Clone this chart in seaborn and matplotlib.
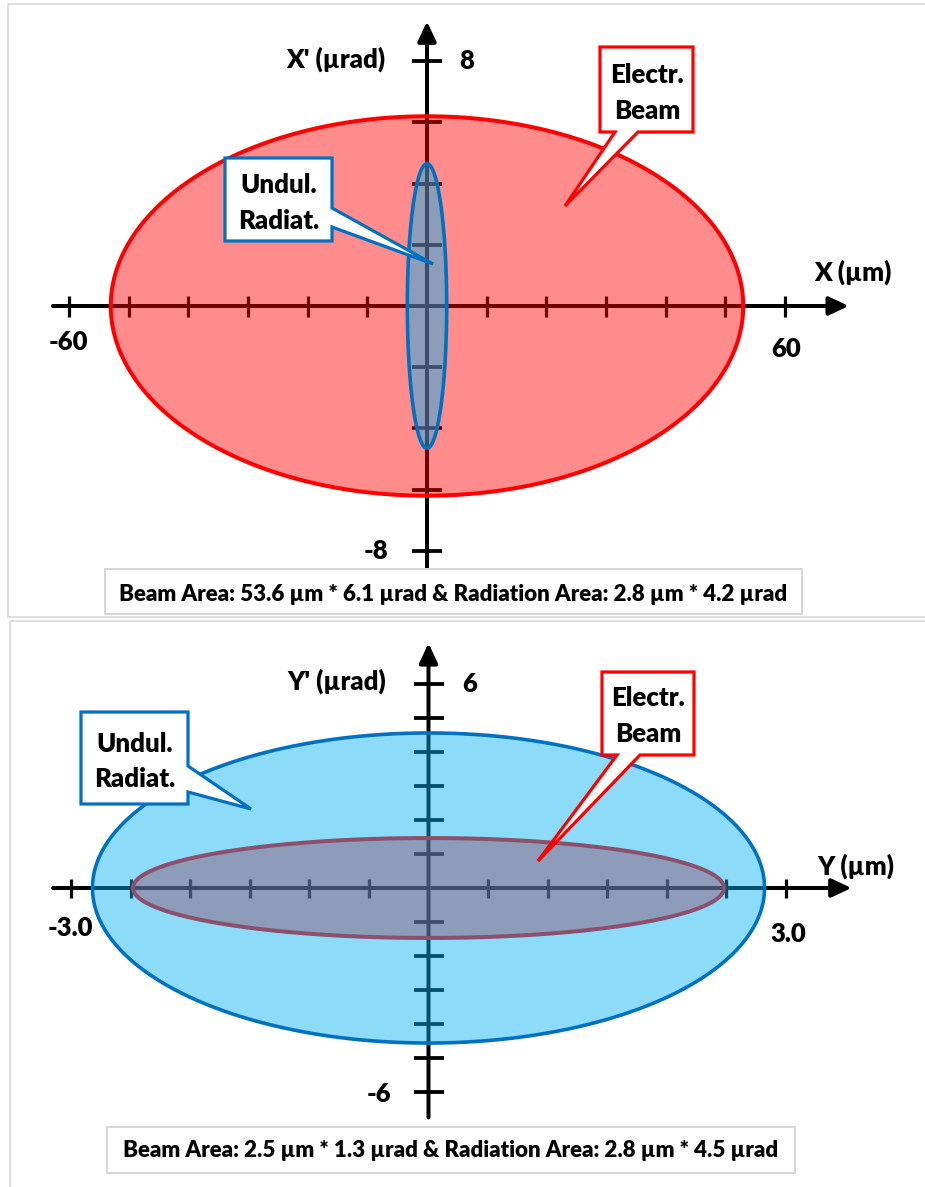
import numpy as np
import pandas as pd
import matplotlib
matplotlib.use("Agg")
import matplotlib.pyplot as plt
from matplotlib.patches import Polygon, Rectangle
from matplotlib import font_manager
import seaborn as sns

# ------------------------------------------------------------------ data
# top panel : horizontal phase space (X, X')
top_xticks = [-60, -50, -40, -30, -20, -10, 10, 20, 30, 40, 50, 60]
top_yticks = [-8, -6, -4, -2, 2, 4, 6, 8]
top_xlabels = {-60: "-60", 60: "60"}
top_ylabels = {8: "8", -8: "-8"}
top_beam = (53.0, 6.2)        # electron beam ellipse semi-axes as drawn
top_rad = (3.3, 4.65)         # undulator radiation ellipse semi-axes as drawn
top_xtitle = "X (µm)"
top_ytitle = "X' (µrad)"
top_caption = "Beam Area: 53.6 µm * 6.1 µrad & Radiation Area: 2.8 µm * 4.2 µrad"

# bottom panel : vertical phase space (Y, Y')
bot_xticks = [-3.0, -2.5, -2.0, -1.5, -1.0, -0.5, 0.5, 1.0, 1.5, 2.0, 2.5, 3.0]
bot_yticks = [-6, -5, -4, -3, -2, -1, 1, 2, 3, 4, 5, 6]
bot_xlabels = {-3.0: "-3.0", 3.0: "3.0"}
bot_ylabels = {6: "6", -6: "-6"}
bot_beam = (2.48, 1.47)
bot_rad = (2.82, 4.56)
bot_xtitle = "Y (µm)"
bot_ytitle = "Y' (µrad)"
bot_caption = "Beam Area: 2.5 µm * 1.3 µrad & Radiation Area: 2.8 µm * 4.5 µrad"

callout_beam = ["Electr.", "Beam"]
callout_rad = ["Undul.", "Radiat."]

# ------------------------------------------------------------------ style
sns.set_theme(style="white")


def pick_font(cands):
    for c in cands:
        try:
            font_manager.findfont(font_manager.FontProperties(family=c),
                                  fallback_to_default=False)
            return c
        except Exception:
            continue
    return "DejaVu Sans"


FONT = pick_font(["Lato", "Liberation Sans", "DejaVu Sans"])
plt.rcParams["font.family"] = [FONT, "DejaVu Sans"]
plt.rcParams["font.weight"] = "heavy"
WEIGHT = "heavy"

W, H = 925, 1187
DPI = 100
fig = plt.figure(figsize=(W / DPI, H / DPI), dpi=DPI)
fig.patch.set_facecolor("white")

RED = (1.0, 0.0, 0.0)
BLUE_FILL = (0.0, 176 / 255, 240 / 255)
BLUE_EDGE = (0.0, 112 / 255, 192 / 255)
ALPHA = 0.45
PT = 72.0 / DPI   # points per pixel

LABEL_FS = 18.5


def make_panel(rect_px, cx, cy, sx, sy):
    """rect_px = (y0, y1) pixel range; cx, cy centre px; sx, sy px per unit."""
    y0, y1 = rect_px
    ax = fig.add_axes([0, 1 - y1 / H, 1, (y1 - y0) / H])
    ax.set_xlim((0 - cx) / sx, (W - cx) / sx)
    ax.set_ylim((cy - y1) / sy, (cy - y0) / sy)
    ax.set_axis_off()
    ax.patch.set_alpha(0)
    return ax


def draw_axes(ax, xstart, xend, ystart, yend, xt, yt, sx_len, sy_len):
    arrow = dict(arrowstyle="-|>,head_length=0.6,head_width=0.28",
                 lw=4 * PT, color="black", mutation_scale=20,
                 shrinkA=0, shrinkB=0)
    ax.annotate("", xy=(xend, 0), xytext=(xstart, 0), arrowprops=arrow, zorder=1)
    ax.annotate("", xy=(0, yend), xytext=(0, ystart), arrowprops=arrow, zorder=1)
    ax.plot(xt, np.zeros(len(xt)), ls="none", marker="|", ms=sx_len * PT,
            mew=3.2 * PT, color="black", zorder=1)
    ax.plot(np.zeros(len(yt)), yt, ls="none", marker="_", ms=sy_len * PT,
            mew=3.8 * PT, color="black", zorder=1)


def draw_ellipse(ax, a, b, fill, edge, lw_px, z):
    t = np.linspace(0, 2 * np.pi, 721)
    df = pd.DataFrame({"x": a * np.cos(t), "y": b * np.sin(t)})
    ax.fill(df["x"], df["y"], color=fill, alpha=ALPHA, lw=0, zorder=z)
    sns.lineplot(data=df, x="x", y="y", sort=False, estimator=None, ax=ax,
                 color=edge, lw=lw_px * PT, zorder=z + 0.1, legend=False)


def label(ax, text, xy, off, ha, fs=LABEL_FS):
    ax.annotate(text, xy=xy, xytext=off, textcoords="offset pixels",
                ha=ha, va="baseline", fontsize=fs, fontweight=WEIGHT,
                color="black", zorder=6)


# ---------------------------------------------------------- top panel
axT = make_panel((0, 619), 427, 306, 5.967, 30.6)
draw_axes(axT, -62.7, 70.7, -8.6, 9.3, top_xticks, top_yticks, 21, 30)
draw_ellipse(axT, top_beam[0], top_beam[1], RED, RED, 4, 2)
draw_ellipse(axT, top_rad[0], top_rad[1], BLUE_FILL, BLUE_EDGE, 3.6, 3)
label(axT, top_xlabels[-60], (-60, 0), (-1, -44), "center")
label(axT, top_xlabels[60], (60, 0), (1, -51), "center")
label(axT, top_ylabels[8], (0, 8), (32, -8), "left")
label(axT, top_ylabels[-8], (0, -8), (-39, -8), "right")
label(axT, top_ytitle, (0, 8), (-42, -6), "right")
label(axT, top_xtitle, (60, 0), (29, 25), "left")

# ---------------------------------------------------------- bottom panel
axB = make_panel((619, H), 428.5, 888, 119.17, 34.0)
draw_axes(axB, -3.15, 3.55, -6.75, 7.2, bot_xticks, bot_yticks, 19, 30)
draw_ellipse(axB, bot_beam[0], bot_beam[1], RED, RED, 4, 2)
draw_ellipse(axB, bot_rad[0], bot_rad[1], BLUE_FILL, BLUE_EDGE, 3.6, 3)
label(axB, bot_xlabels[-3.0], (-3.0, 0), (-1, -48), "center")
label(axB, bot_xlabels[3.0], (3.0, 0), (2, -54), "center")
label(axB, bot_ylabels[6], (0, 6), (34, -8), "left")
label(axB, bot_ylabels[-6], (0, -6), (-37, -10), "right")
label(axB, bot_ytitle, (0, 6), (-42, -6), "right")
label(axB, bot_xtitle, (3.0, 0), (31, 13), "left")

# ---------------------------------------------------------- overlay (frames, callouts, captions)
ov = fig.add_axes([0, 0, 1, 1])
ov.set_xlim(0, W)
ov.set_ylim(H, 0)
ov.set_axis_off()
ov.patch.set_alpha(0)

GRAY = "#d6d6d6"
ov.add_patch(Rectangle((8, 4), 940, 613, fill=False, ec=GRAY, lw=1.6 * PT, zorder=1))
ov.add_patch(Rectangle((10, 621), 940, 580, fill=False, ec=GRAY, lw=1.6 * PT, zorder=1))


def callout(pts, edge, lines, cx, baselines):
    ov.add_patch(Polygon(pts, closed=True, fc="white", ec=edge, lw=3.2 * PT,
                         joinstyle="miter", zorder=5))
    for txt, b in zip(lines, baselines):
        ov.text(cx, b, txt, ha="center", va="baseline", fontsize=LABEL_FS,
                fontweight=WEIGHT, color="black", zorder=6)


callout([(225, 158), (332, 158), (332, 208), (433, 264), (332, 227), (332, 241), (225, 241)],
        BLUE_EDGE, callout_rad, 279, [193, 229])
callout([(600, 47), (693, 47), (693, 132), (638, 132), (565, 206), (615, 132), (600, 132)],
        RED, callout_beam, 647, [83, 119])
callout([(81, 712), (188, 712), (188, 766), (251, 809), (188, 792), (188, 804), (81, 804)],
        BLUE_EDGE, callout_rad, 135, [752, 787])
callout([(602, 672), (694, 672), (694, 755), (640, 755), (538, 861), (617, 755), (602, 755)],
        RED, callout_beam, 648, [706, 742])

ov.add_patch(Rectangle((105, 569), 697, 45, fc="white", ec=GRAY, lw=2 * PT, zorder=5))
ov.add_patch(Rectangle((107, 1127), 688, 46, fc="white", ec=GRAY, lw=2 * PT, zorder=5))

capT = ov.text(453.5, 601, top_caption, ha="center", va="baseline", fontsize=12,
               fontweight=WEIGHT, color="black", zorder=6)
capB = ov.text(451, 1157, bot_caption, ha="center", va="baseline", fontsize=12,
               fontweight=WEIGHT, color="black", zorder=6)

# fit caption widths to the reference
fig.canvas.draw()
r = fig.canvas.get_renderer()
for t, target in ((capT, 667), (capB, 654)):
    w = t.get_window_extent(r).width
    t.set_fontsize(12 * target / w)

fig.savefig("out.png", dpi=DPI, facecolor="white")
